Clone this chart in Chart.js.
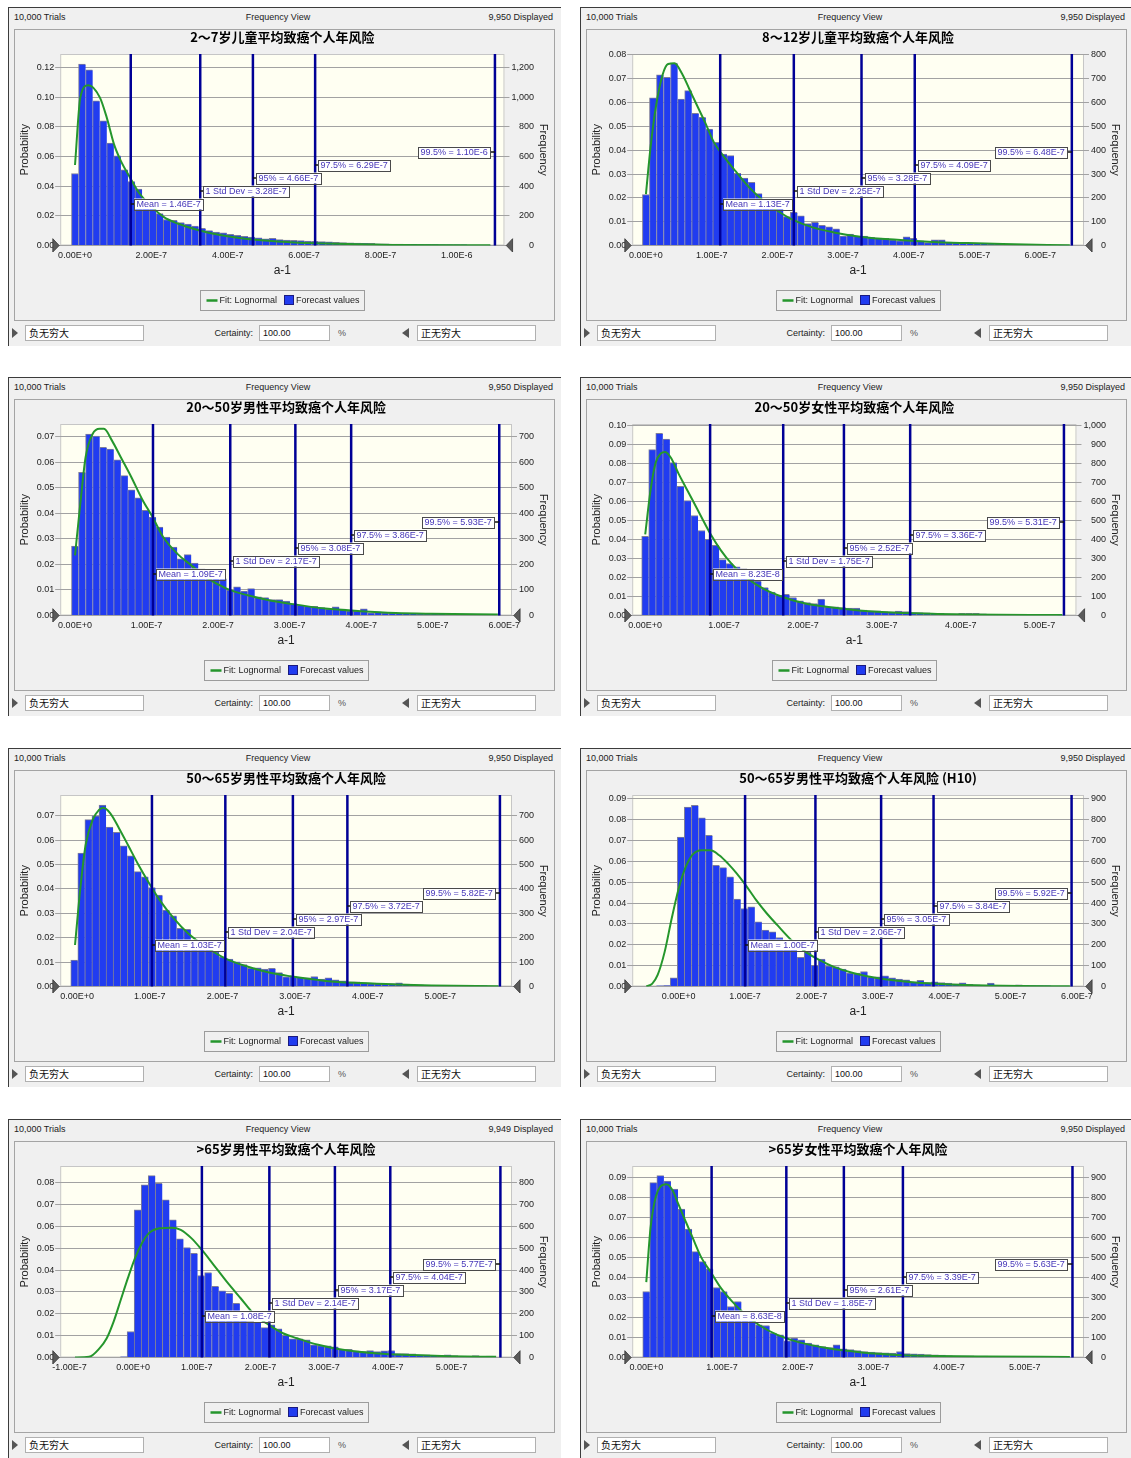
<!DOCTYPE html>
<html>
<head>
<meta charset="utf-8">
<script src="https://cdn.jsdelivr.net/npm/chart.js@4.4.0/dist/chart.umd.min.js"></script>
<style>
  body { margin: 0; background: #fff; width: 1131px; height: 1458px; position: relative; overflow: hidden;
         font-family: "Liberation Sans", Arial, sans-serif; }
  .panel { position: absolute; width: 553px; height: 339px; background: #f0f0f0; box-shadow: inset 1px 1px 0 #3c3c3c; }
  .panel > * { position: absolute; }
  .hdr { top: 4px; font-size: 9px; line-height: 13px; color: #222; white-space: nowrap; }
  .inner { left: 6px; top: 22px; width: 541px; height: 292px; border: 1px solid #a4a4a4; box-sizing: border-box; }
  .panel canvas { left: 6px; top: 22px; }
  .box { top: 318px; height: 16px; background: #fff; border: 1px solid #b0b0b0; box-sizing: border-box;
         font: 10px "Noto Sans CJK SC", sans-serif; line-height: 14px; padding-left: 3px; color: #111; }
  .box.num { font: 9px "Liberation Sans", Arial, sans-serif; line-height: 14px; }
  .lbl { top: 319px; font-size: 9px; line-height: 14px; color: #222; }
  .tri { top: 321px; width: 0; height: 0; border-top: 5px solid transparent; border-bottom: 5px solid transparent; }
  .tri.r { border-left: 6px solid #555; }
  .tri.l { border-right: 7px solid #555; }
</style>
</head>
<body>
<script>
// ---- 2~7岁儿童 ----
const probs1 = [0.0485, 0.1222, 0.1184, 0.0975, 0.0840, 0.0690, 0.0604, 0.0510, 0.0431, 0.0380,
  0.0310, 0.0260, 0.0215, 0.0175, 0.0170, 0.0155, 0.0145, 0.0130, 0.0115, 0.0100,
  0.0090, 0.0085, 0.0075, 0.0068, 0.0062, 0.0057, 0.0052, 0.0045, 0.0048, 0.0040,
  0.0037, 0.0035, 0.0033, 0.0030, 0.0028, 0.0026, 0.0025, 0.0022, 0.0020, 0.0018,
  0.0016, 0.0015, 0.0014, 0.0012, 0.0011, 0.0010, 0.0009, 0.0008, 0.0008, 0.0007,
  0.0006, 0.0006, 0.0005, 0.0005, 0.0004, 0.0004, 0.0003, 0.0003, 0.0003, 0.0002];
const fitX1 = [0, 0.14e-7, 0.35e-7, 0.65e-7, 0.83e-7, 1.02e-7, 1.20e-7, 1.44e-7, 1.67e-7, 1.94e-7,
  2.32e-7, 2.69e-7, 3.24e-7, 3.80e-7, 4.72e-7, 5.65e-7, 6.57e-7, 7.50e-7, 8.43e-7, 10.88e-7];
const fitY1 = [0.0542, 0.0998, 0.1080, 0.0998, 0.0863, 0.0683, 0.0570, 0.0458, 0.0357, 0.0279,
  0.0193, 0.0148, 0.0103, 0.0070, 0.0038, 0.0022, 0.0013, 0.0009, 0.0004, 0.0002];
const stats1 = [1.46e-7, 3.28e-7, 4.66e-7, 6.29e-7, 1.10e-6];
const xTicks1 = [0, 2e-7, 4e-7, 6e-7, 8e-7, 1e-6];
const yTicks1 = [0, 0.02, 0.04, 0.06, 0.08, 0.10, 0.12];
const freqTicks1 = [0, 200, 400, 600, 800, 1000, 1200];

// ---- 8~12岁儿童 ----
const probs2 = [0.0214, 0.0620, 0.0717, 0.0706, 0.0766, 0.0615, 0.0650, 0.0555, 0.0538, 0.0489,
  0.0433, 0.0384, 0.0377, 0.0303, 0.0283, 0.0265, 0.0218, 0.0190, 0.0175, 0.0160,
  0.0121, 0.0139, 0.0125, 0.0092, 0.0097, 0.0085, 0.0078, 0.0070, 0.0040, 0.0048,
  0.0040, 0.0040, 0.0034, 0.0031, 0.0030, 0.0024, 0.0020, 0.0036, 0.0030, 0.0020,
  0.0012, 0.0024, 0.0024, 0.0014, 0.0012, 0.0010, 0.0010, 0.0009, 0.0008, 0.0006,
  0.0005, 0.0005, 0.0004, 0.0004, 0.0003, 0.0003, 0.0002, 0.0002, 0.0002, 0.0001, 0.0001];
const fitX2 = [0, 0.07e-7, 0.15e-7, 0.257e-7, 0.338e-7, 0.434e-7, 0.552e-7, 0.66e-7, 0.767e-7, 0.9e-7,
  1.035e-7, 1.196e-7, 1.357e-7, 1.571e-7, 1.786e-7, 2.0e-7, 2.214e-7, 2.536e-7, 2.858e-7, 3.287e-7,
  3.823e-7, 4.359e-7, 4.895e-7, 5.432e-7, 6.45e-7];
const fitY2 = [0.0216, 0.0412, 0.0580, 0.0720, 0.0762, 0.0765, 0.0720, 0.0657, 0.0594, 0.0517,
  0.0433, 0.0370, 0.0314, 0.0244, 0.0188, 0.0146, 0.0111, 0.0076, 0.0055, 0.0036,
  0.0024, 0.0015, 0.0010, 0.0006, 0.0001];
const stats2 = [1.13e-7, 2.25e-7, 3.28e-7, 4.09e-7, 6.48e-7];
const xTicks2 = [0, 1e-7, 2e-7, 3e-7, 4e-7, 5e-7, 6e-7];
const yTicks2 = [0, 0.01, 0.02, 0.03, 0.04, 0.05, 0.06, 0.07, 0.08];
const freqTicks2 = [0, 100, 200, 300, 400, 500, 600, 700, 800];

// ---- 20~50岁男性 ----
const probs3 = [0.0272, 0.0560, 0.0710, 0.0702, 0.0658, 0.0651, 0.0609, 0.0547, 0.0492, 0.0460,
  0.0411, 0.0385, 0.0346, 0.0307, 0.0268, 0.0222, 0.0238, 0.0205, 0.0183, 0.0164,
  0.0153, 0.0144, 0.0099, 0.0112, 0.0096, 0.0105, 0.0073, 0.0070, 0.0062, 0.0062,
  0.0056, 0.0047, 0.0040, 0.0036, 0.0036, 0.0031, 0.0025, 0.0034, 0.0025, 0.0018,
  0.0017, 0.0026, 0.0010, 0.0014, 0.0010, 0.0010, 0.0009, 0.0009, 0.0008, 0.0006,
  0.0006, 0.0005, 0.0005, 0.0004, 0.0004, 0.0004, 0.0004, 0.0003, 0.0003, 0.0002, 0.0002];
const fitX3 = [0, 0.074e-7, 0.148e-7, 0.246e-7, 0.345e-7, 0.404e-7, 0.517e-7, 0.64e-7, 0.788e-7, 0.936e-7,
  1.084e-7, 1.232e-7, 1.429e-7, 1.626e-7, 1.823e-7, 2.118e-7, 2.414e-7, 2.709e-7, 3.005e-7, 3.498e-7,
  3.99e-7, 4.483e-7, 4.975e-7, 5.911e-7];
const fitY3 = [0.0235, 0.0437, 0.0619, 0.0710, 0.0730, 0.0730, 0.0684, 0.0619, 0.0541, 0.0456,
  0.0385, 0.0307, 0.0242, 0.0196, 0.0151, 0.0105, 0.0079, 0.0060, 0.0046, 0.0027,
  0.0017, 0.0010, 0.0007, 0.0004];
const stats3 = [1.09e-7, 2.17e-7, 3.08e-7, 3.86e-7, 5.93e-7];
const xTicks3 = [0, 1e-7, 2e-7, 3e-7, 4e-7, 5e-7, 6e-7];
const yTicks3 = [0, 0.01, 0.02, 0.03, 0.04, 0.05, 0.06, 0.07];
const freqTicks3 = [0, 100, 200, 300, 400, 500, 600, 700];

// ---- 20~50岁女性 ----
const probs4 = [0.0417, 0.0874, 0.0960, 0.0930, 0.0806, 0.0680, 0.0606, 0.0527, 0.0448, 0.0401,
  0.0370, 0.0294, 0.0273, 0.0256, 0.0247, 0.0203, 0.0182, 0.0147, 0.0124, 0.0107,
  0.0112, 0.0095, 0.0077, 0.0068, 0.0063, 0.0086, 0.0046, 0.0046, 0.0042, 0.0039,
  0.0039, 0.0028, 0.0025, 0.0025, 0.0021, 0.0019, 0.0023, 0.0021, 0.0016, 0.0016,
  0.0014, 0.0012, 0.0011, 0.0009, 0.0009, 0.0011, 0.0011, 0.0011, 0.0009, 0.0005,
  0.0005, 0.0004, 0.0003, 0.0003, 0.0002, 0.0002, 0.0002, 0.0002, 0.0002, 0.0001];
const fitX4 = [0, 0.067e-7, 0.134e-7, 0.201e-7, 0.254e-7, 0.335e-7, 0.424e-7, 0.513e-7, 0.603e-7, 0.714e-7,
  0.826e-7, 0.96e-7, 1.094e-7, 1.272e-7, 1.496e-7, 1.763e-7, 2.031e-7, 2.299e-7, 2.746e-7, 3.192e-7,
  3.638e-7, 4.085e-7, 5.29e-7];
const fitY4 = [0.0427, 0.0658, 0.0807, 0.0855, 0.0862, 0.0825, 0.0746, 0.0676, 0.0606, 0.0518,
  0.0431, 0.0343, 0.0273, 0.0203, 0.0142, 0.0095, 0.0063, 0.0046, 0.0025, 0.0014,
  0.0009, 0.0005, 0.0002];
const stats4 = [8.23e-8, 1.75e-7, 2.52e-7, 3.36e-7, 5.31e-7];
const xTicks4 = [0, 1e-7, 2e-7, 3e-7, 4e-7, 5e-7];
const yTicks4 = [0, 0.01, 0.02, 0.03, 0.04, 0.05, 0.06, 0.07, 0.08, 0.09, 0.10];
const freqTicks4 = [0, 100, 200, 300, 400, 500, 600, 700, 800, 900, 1000];

// ---- 50~65岁男性 ----
const probs5 = [0.0108, 0.0547, 0.0684, 0.0700, 0.0744, 0.0653, 0.0632, 0.0577, 0.0536, 0.0471,
  0.0450, 0.0405, 0.0375, 0.0313, 0.0290, 0.0238, 0.0234, 0.0190, 0.0170, 0.0156,
  0.0142, 0.0122, 0.0112, 0.0101, 0.0090, 0.0074, 0.0077, 0.0071, 0.0074, 0.0057,
  0.0040, 0.0042, 0.0038, 0.0036, 0.0041, 0.0030, 0.0036, 0.0027, 0.0023, 0.0019,
  0.0019, 0.0015, 0.0012, 0.0012, 0.0011, 0.0012, 0.0015, 0.0010, 0.0008, 0.0007,
  0.0005, 0.0005, 0.0005, 0.0004, 0.0004, 0.0004, 0.0003, 0.0003, 0.0003, 0.0002, 0.0002];
const fitX5 = [-0.029e-7, 0.044e-7, 0.117e-7, 0.214e-7, 0.301e-7, 0.36e-7, 0.457e-7, 0.578e-7, 0.7e-7, 0.845e-7,
  0.991e-7, 1.137e-7, 1.331e-7, 1.526e-7, 1.769e-7, 2.06e-7, 2.352e-7, 2.643e-7, 2.935e-7, 3.421e-7,
  3.907e-7, 4.393e-7, 4.879e-7, 5.802e-7];
const fitY5 = [0.0170, 0.0402, 0.0580, 0.0683, 0.0724, 0.0733, 0.0710, 0.0648, 0.0580, 0.0498,
  0.0423, 0.0354, 0.0279, 0.0218, 0.0163, 0.0112, 0.0081, 0.0057, 0.0042, 0.0023,
  0.0014, 0.0008, 0.0004, 0.0001];
const stats5 = [1.03e-7, 2.04e-7, 2.97e-7, 3.72e-7, 5.82e-7];
const xTicks5 = [0, 1e-7, 2e-7, 3e-7, 4e-7, 5e-7];
const yTicks5 = [0, 0.01, 0.02, 0.03, 0.04, 0.05, 0.06, 0.07];
const freqTicks5 = [0, 100, 200, 300, 400, 500, 600, 700];

// ---- 50~65岁男性 (H10) ----
const probs6 = [0.0003, 0.0005, 0.0042, 0.0716, 0.0860, 0.0869, 0.0808, 0.0725, 0.0581, 0.0570,
  0.0526, 0.0419, 0.0374, 0.0382, 0.0310, 0.0270, 0.0262, 0.0235, 0.0185, 0.0182,
  0.0140, 0.0165, 0.0102, 0.0131, 0.0099, 0.0094, 0.0083, 0.0064, 0.0064, 0.0072,
  0.0045, 0.0046, 0.0051, 0.0042, 0.0035, 0.0032, 0.0022, 0.0030, 0.0019, 0.0022,
  0.0019, 0.0016, 0.0013, 0.0018, 0.0010, 0.0008, 0.0007, 0.0016, 0.0005, 0.0005,
  0.0004, 0.0008, 0.0004, 0.0003, 0.0003, 0.0003, 0.0002, 0.0002, 0.0002];
const fitX6 = [-0.489e-7, -0.398e-7, -0.319e-7, -0.212e-7, -0.106e-7, 0, 0.106e-7, 0.212e-7, 0.345e-7, 0.478e-7,
  0.611e-7, 0.743e-7, 0.876e-7, 1.009e-7, 1.168e-7, 1.328e-7, 1.487e-7, 1.699e-7, 1.912e-7, 2.124e-7,
  2.337e-7, 2.655e-7, 3.027e-7, 3.558e-7, 4.089e-7, 4.62e-7, 5.151e-7, 5.895e-7];
const fitY6 = [0, 0.0014, 0.0054, 0.0166, 0.0326, 0.0470, 0.0573, 0.0633, 0.0653, 0.0653,
  0.0629, 0.0589, 0.0541, 0.0486, 0.0414, 0.0350, 0.0294, 0.0222, 0.0166, 0.0126,
  0.0094, 0.0062, 0.0038, 0.0019, 0.0010, 0.0005, 0.0002, 0.0001];
const stats6 = [1.00e-7, 2.06e-7, 3.05e-7, 3.84e-7, 5.92e-7];
const xTicks6 = [0, 1e-7, 2e-7, 3e-7, 4e-7, 5e-7, 6e-7];
const yTicks6 = [0, 0.01, 0.02, 0.03, 0.04, 0.05, 0.06, 0.07, 0.08, 0.09];
const freqTicks6 = [0, 100, 200, 300, 400, 500, 600, 700, 800, 900];

// ---- >65岁男性 ----
const probs7 = [0.0003, 0.0119, 0.0675, 0.0790, 0.0832, 0.0797, 0.0721, 0.0630, 0.0543, 0.0503,
  0.0477, 0.0375, 0.0389, 0.0325, 0.0305, 0.0293, 0.0248, 0.0195, 0.0165, 0.0162,
  0.0137, 0.0149, 0.0131, 0.0101, 0.0085, 0.0085, 0.0081, 0.0058, 0.0055, 0.0053,
  0.0049, 0.0037, 0.0037, 0.0030, 0.0027, 0.0032, 0.0027, 0.0030, 0.0032, 0.0018,
  0.0018, 0.0017, 0.0012, 0.0012, 0.0009, 0.0009, 0.0012, 0.0009, 0.0006, 0.0006,
  0.0009, 0.0005, 0.0006];
const fitX7 = [-0.914e-7, -0.692e-7, -0.526e-7, -0.415e-7, -0.305e-7, -0.194e-7, -0.083e-7, 0.028e-7, 0.138e-7, 0.249e-7,
  0.415e-7, 0.609e-7, 0.748e-7, 0.914e-7, 1.08e-7, 1.246e-7, 1.467e-7, 1.689e-7, 1.91e-7, 2.132e-7,
  2.353e-7, 2.575e-7, 2.907e-7, 3.295e-7, 3.848e-7, 4.402e-7, 4.956e-7, 5.703e-7];
const fitY7 = [0, 0.0003, 0.0043, 0.0088, 0.0165, 0.0264, 0.0363, 0.0454, 0.0523, 0.0569,
  0.0591, 0.0594, 0.0584, 0.0546, 0.0492, 0.0431, 0.0348, 0.0271, 0.0195, 0.0149,
  0.0111, 0.0088, 0.0058, 0.0035, 0.0018, 0.0011, 0.0006, 0.0003];
const stats7 = [1.08e-7, 2.14e-7, 3.17e-7, 4.04e-7, 5.77e-7];
const xTicks7 = [-1e-7, 0, 1e-7, 2e-7, 3e-7, 4e-7, 5e-7];
const yTicks7 = [0, 0.01, 0.02, 0.03, 0.04, 0.05, 0.06, 0.07, 0.08];
const freqTicks7 = [0, 100, 200, 300, 400, 500, 600, 700, 800];

// ---- >65岁女性 ----
const probs8 = [0.0330, 0.0875, 0.0910, 0.0883, 0.0843, 0.0743, 0.0642, 0.0530, 0.0480, 0.0443,
  0.0350, 0.0330, 0.0255, 0.0280, 0.0222, 0.0197, 0.0163, 0.0160, 0.0122, 0.0113,
  0.0083, 0.0097, 0.0088, 0.0072, 0.0063, 0.0055, 0.0050, 0.0063, 0.0043, 0.0040,
  0.0035, 0.0030, 0.0027, 0.0025, 0.0023, 0.0022, 0.0030, 0.0020, 0.0018, 0.0017,
  0.0015, 0.0013, 0.0012, 0.0010, 0.0008, 0.0008, 0.0008, 0.0007, 0.0007, 0.0005,
  0.0005, 0.0003, 0.0003, 0.0003, 0.0003, 0.0002, 0.0002, 0.0002, 0.0002, 0.0001, 0.0001];
const fitX8 = [0, 0.056e-7, 0.126e-7, 0.186e-7, 0.265e-7, 0.345e-7, 0.428e-7, 0.521e-7, 0.615e-7, 0.731e-7,
  0.847e-7, 0.987e-7, 1.127e-7, 1.313e-7, 1.499e-7, 1.732e-7, 2.011e-7, 2.384e-7, 2.849e-7, 3.315e-7,
  3.78e-7, 4.479e-7, 5.596e-7];
const fitY8 = [0.0377, 0.0647, 0.0805, 0.0855, 0.0867, 0.0838, 0.0763, 0.0680, 0.0597, 0.0497,
  0.0430, 0.0347, 0.0283, 0.0213, 0.0160, 0.0113, 0.0077, 0.0047, 0.0025, 0.0013,
  0.0008, 0.0005, 0.0003];
const stats8 = [8.63e-8, 1.85e-7, 2.61e-7, 3.39e-7, 5.63e-7];
const xTicks8 = [0, 1e-7, 2e-7, 3e-7, 4e-7, 5e-7];
const yTicks8 = [0, 0.01, 0.02, 0.03, 0.04, 0.05, 0.06, 0.07, 0.08, 0.09];
const freqTicks8 = [0, 100, 200, 300, 400, 500, 600, 700, 800, 900];

const statNames = ["Mean", "1 Std Dev", "95%", "97.5%", "99.5%"];

const panels = [
  { left: 8, top: 7, title: "2～7岁儿童平均致癌个人年风险", shown: "9,950", probs: probs1, binStart: 0, binWidth: 1.85e-8,
    fitX: fitX1, fitY: fitY1, stats: stats1, xTicks: xTicks1, yTicks: yTicks1, freqTicks: freqTicks1, xMin: -0.388e-7, xMax: 11.25e-7, yMax: 0.129 },
  { left: 580, top: 7, title: "8～12岁儿童平均致癌个人年风险", shown: "9,950", probs: probs2, binStart: 0, binWidth: 1.072e-8,
    fitX: fitX2, fitY: fitY2, stats: stats2, xTicks: xTicks2, yTicks: yTicks2, freqTicks: freqTicks2, xMin: -0.209e-7, xMax: 6.665e-7, yMax: 0.0804 },
  { left: 8, top: 377, title: "20～50岁男性平均致癌个人年风险", shown: "9,950", probs: probs3, binStart: 0, binWidth: 0.985e-8,
    fitX: fitX3, fitY: fitY3, stats: stats3, xTicks: xTicks3, yTicks: yTicks3, freqTicks: freqTicks3, xMin: -0.207e-7, xMax: 6.108e-7, yMax: 0.0749 },
  { left: 580, top: 377, title: "20～50岁女性平均致癌个人年风险", shown: "9,950", probs: probs4, binStart: 0, binWidth: 0.893e-8,
    fitX: fitX4, fitY: fitY4, stats: stats4, xTicks: xTicks4, yTicks: yTicks4, freqTicks: freqTicks4, xMin: -0.165e-7, xMax: 5.469e-7, yMax: 0.1009 },
  { left: 8, top: 748, title: "50～65岁男性平均致癌个人年风险", shown: "9,950", probs: probs5, binStart: -0.39e-8, binWidth: 0.972e-8,
    fitX: fitX5, fitY: fitY5, stats: stats5, xTicks: xTicks5, yTicks: yTicks5, freqTicks: freqTicks5, xMin: -0.233e-7, xMax: 5.986e-7, yMax: 0.0785 },
  { left: 580, top: 748, title: "50～65岁男性平均致癌个人年风险 (H10)", shown: "9,950", probs: probs6, binStart: -0.287e-7, binWidth: 1.062e-8,
    fitX: fitX6, fitY: fitY6, stats: stats6, xTicks: xTicks6, yTicks: yTicks6, freqTicks: freqTicks6, xMin: -0.701e-7, xMax: 6.107e-7, yMax: 0.0918 },
  { left: 8, top: 1119, title: ">65岁男性平均致癌个人年风险", shown: "9,949", probs: probs7, binStart: -0.15e-7, binWidth: 1.107e-8,
    fitX: fitX7, fitY: fitY7, stats: stats7, xTicks: xTicks7, yTicks: yTicks7, freqTicks: freqTicks7, xMin: -1.146e-7, xMax: 5.952e-7, yMax: 0.0876 },
  { left: 580, top: 1119, title: ">65岁女性平均致癌个人年风险", shown: "9,950", probs: probs8, binStart: 0, binWidth: 0.931e-8,
    fitX: fitX8, fitY: fitY8, stats: stats8, xTicks: xTicks8, yTicks: yTicks8, freqTicks: freqTicks8, xMin: -0.186e-7, xMax: 5.782e-7, yMax: 0.0958 }
];

const BLUE = "#213cf0";
const GREEN = "#25962c";
const NAVY = "#000096";
const SANS = '"Liberation Sans", Arial, sans-serif';

Chart.defaults.font.family = SANS;
Chart.defaults.font.size = 9;
Chart.defaults.color = "#222";

const expLabel = (v) => v.toExponential(2).toUpperCase();

// plot background, percentile markers, title, legend and the end grips
const decor = {
  id: "decor",
  beforeDraw(chart) {
    const { ctx, chartArea: a } = chart;
    ctx.save();
    ctx.fillStyle = "#fffff2";
    ctx.fillRect(a.left, a.top, a.right - a.left, a.bottom - a.top);
    ctx.strokeStyle = "#c6c6c6";
    ctx.lineWidth = 1;
    ctx.strokeRect(a.left + 0.5, a.top + 0.5, a.right - a.left - 1, a.bottom - a.top - 1);
    ctx.restore();
  },
  afterDatasetsDraw(chart, args, opts) {
    const { ctx, chartArea: a } = chart;
    const x = chart.scales.x;
    ctx.save();
    ctx.strokeStyle = NAVY;
    ctx.lineWidth = 2.5;
    opts.stats.forEach((v) => {
      const px = x.getPixelForValue(v);
      ctx.beginPath();
      ctx.moveTo(px, a.top);
      ctx.lineTo(px, a.bottom);
      ctx.stroke();
    });
    ctx.font = "9px " + SANS;
    ctx.textBaseline = "middle";
    ctx.textAlign = "left";
    opts.stats.forEach((v, i) => {
      const px = x.getPixelForValue(v);
      const text = statNames[i] + " = " + expLabel(v);
      const w = Math.round(ctx.measureText(text).width + 5);
      const h = 11;
      const cy = Math.round(a.bottom - 42 - 12.9 * i);
      let bx = Math.round(px + 3);
      const toLeft = bx + w > a.right - 2;
      if (toLeft) bx = Math.round(px - 5 - w);
      ctx.strokeStyle = "#111";
      ctx.lineWidth = 1.5;
      ctx.beginPath();
      ctx.moveTo(toLeft ? bx + w : px, cy);
      ctx.lineTo(toLeft ? px : bx, cy);
      ctx.stroke();
      ctx.fillStyle = "#fff";
      ctx.fillRect(bx, cy - h / 2, w, h);
      ctx.strokeStyle = "#4a4a4a";
      ctx.lineWidth = 1;
      ctx.strokeRect(bx + 0.5, Math.round(cy - h / 2) + 0.5, w, h);
      ctx.fillStyle = "#4636b8";
      ctx.fillText(text, bx + 2.5, cy + 1);
    });
    ctx.restore();
  },
  afterDraw(chart, args, opts) {
    const { ctx, chartArea: a } = chart;
    const cx = (a.left + a.right) / 2;
    ctx.save();
    // title
    ctx.fillStyle = "#000";
    ctx.font = 'bold 13px "Noto Sans CJK SC", sans-serif';
    ctx.textAlign = "center";
    ctx.textBaseline = "middle";
    ctx.fillText(opts.title, cx, 8.5);
    // right axis title
    ctx.save();
    ctx.translate(529.4, (a.top + a.bottom) / 2);
    ctx.rotate(Math.PI / 2);
    ctx.font = "11px " + SANS;
    ctx.fillStyle = "#222";
    ctx.fillText("Frequency", 0, 0);
    ctx.restore();
    // legend
    ctx.font = "9px " + SANS;
    ctx.textAlign = "left";
    const t1 = "Fit: Lognormal", t2 = "Forecast values";
    const w1 = ctx.measureText(t1).width, w2 = ctx.measureText(t2).width;
    const W = Math.round(6 + 11 + 2 + w1 + 7 + 9 + 3 + w2 + 5);
    const x0 = Math.round(cx - W / 2) + 0.5, y0 = 261.5, H = 20;
    ctx.strokeStyle = "#9c9c9c";
    ctx.lineWidth = 1;
    ctx.strokeRect(x0, y0, W, H);
    ctx.strokeStyle = GREEN;
    ctx.lineWidth = 2.5;
    ctx.beginPath();
    ctx.moveTo(x0 + 6, y0 + 10);
    ctx.lineTo(x0 + 17, y0 + 10);
    ctx.stroke();
    ctx.fillStyle = "#222";
    ctx.fillText(t1, x0 + 19, y0 + 10.5);
    const sx = Math.round(x0 + 19 + w1 + 7);
    ctx.fillStyle = BLUE;
    ctx.fillRect(sx, y0 + 5.5, 9, 9);
    ctx.strokeStyle = "#1a1a80";
    ctx.lineWidth = 1;
    ctx.strokeRect(sx + 0.5, y0 + 5, 9, 9);
    ctx.fillStyle = "#222";
    ctx.fillText(t2, sx + 12, y0 + 10.5);
    // grips at both ends of the value axis
    ctx.fillStyle = "#5a5a5a";
    ctx.strokeStyle = "#333";
    ctx.lineWidth = 0.8;
    ctx.beginPath();
    ctx.moveTo(a.left - 7.4, a.bottom - 6.8);
    ctx.lineTo(a.left - 1, a.bottom);
    ctx.lineTo(a.left - 7.4, a.bottom + 6.5);
    ctx.closePath();
    ctx.fill();
    ctx.stroke();
    ctx.beginPath();
    ctx.moveTo(a.right + 8.1, a.bottom - 6.8);
    ctx.lineTo(a.right + 1.8, a.bottom);
    ctx.lineTo(a.right + 8.1, a.bottom + 6.5);
    ctx.closePath();
    ctx.fill();
    ctx.stroke();
    ctx.restore();
  }
};

function buildPanel(p) {
  const el = document.createElement("div");
  el.className = "panel";
  el.style.left = p.left + "px";
  el.style.top = p.top + "px";
  el.innerHTML = `
    <div class="hdr" style="left:6px">10,000 Trials</div>
    <div class="hdr" style="left:220px;width:100px;text-align:center">Frequency View</div>
    <div class="hdr" style="right:8px">${p.shown} Displayed</div>
    <div class="inner"></div>
    <canvas width="541" height="292"></canvas>
    <div class="tri r" style="left:4px"></div>
    <div class="box" style="left:17px;width:119px">负无穷大</div>
    <div class="lbl" style="left:190px;width:55px;text-align:right">Certainty:</div>
    <div class="box num" style="left:251px;width:71px">100.00</div>
    <div class="lbl" style="left:330px;color:#555">%</div>
    <div class="tri l" style="left:394px"></div>
    <div class="box" style="left:409px;width:119px">正无穷大</div>`;
  document.body.appendChild(el);

  const fitPoints = p.fitX.map((v, i) => ({ x: v, y: p.fitY[i] }));
  const barPoints = p.probs.map((v, i) => ({ x: p.binStart + i * p.binWidth, y: v }));

  new Chart(el.querySelector("canvas"), {
    type: "bar",
    data: {
      datasets: [
        {
          type: "line",
          label: "Fit: Lognormal",
          data: fitPoints,
          borderColor: GREEN,
          borderWidth: 2,
          pointRadius: 0,
          cubicInterpolationMode: "monotone",
          fill: false
        },
        {
          type: "bar",
          label: "Forecast values",
          data: barPoints,
          backgroundColor: BLUE,
          borderColor: "#7e7e98",
          borderWidth: { left: 1, top: 1, right: 0, bottom: 0 },
          barPercentage: 1,
          categoryPercentage: 1
        }
      ]
    },
    options: {
      responsive: false,
      animation: false,
      layout: { padding: { top: 25, right: 21, bottom: 43, left: 0 } },
      plugins: {
        legend: { display: false },
        tooltip: { enabled: false },
        decor: { title: p.title, stats: p.stats }
      },
      scales: {
        x: {
          type: "linear",
          min: p.xMin,
          max: p.xMax,
          offset: false,
          afterBuildTicks: (ax) => { ax.ticks = p.xTicks.map((v) => ({ value: v })); },
          afterFit: (s) => { s.height = 32.5; },
          grid: { display: false, drawTicks: false },
          border: { display: false },
          ticks: { autoSkip: false, maxRotation: 0, padding: 5, callback: (v) => expLabel(v) },
          title: { display: true, text: "a-1", font: { size: 12 }, padding: 0 }
        },
        y: {
          position: "left",
          min: 0,
          max: p.yMax,
          afterBuildTicks: (ax) => { ax.ticks = p.yTicks.map((v) => ({ value: v })); },
          afterFit: (s) => { s.width = 46.2; },
          grid: { color: "#a2a2a2", tickLength: 5 },
          border: { display: false },
          ticks: { padding: 1, callback: (v) => v.toFixed(2) },
          title: { display: true, text: "Probability", font: { size: 11 }, padding: { top: 4.5, bottom: 0 } }
        },
        freq: {
          position: "right",
          min: 0,
          max: p.yMax * 10000,
          afterBuildTicks: (ax) => { ax.ticks = p.freqTicks.map((v) => ({ value: v })); },
          grid: { drawOnChartArea: false, color: "#a2a2a2", tickLength: 5 },
          border: { display: false },
          ticks: { padding: 1, crossAlign: "far", callback: (v) => v.toLocaleString("en-US") }
        }
      }
    },
    plugins: [decor]
  });
}

panels.forEach(buildPanel);
</script>
</body>
</html>
